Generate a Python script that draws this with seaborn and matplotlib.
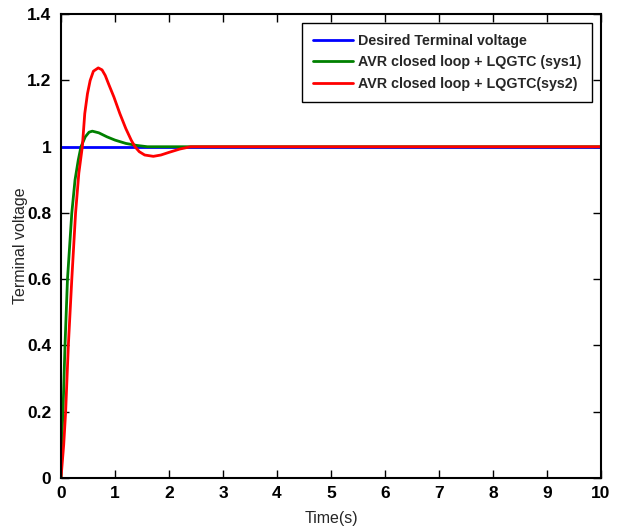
import numpy as np
import seaborn as sns
import matplotlib.pyplot as plt

# -----------------------------
# Data
# -----------------------------
t_ref = [0, 10]
v_ref = [1.0, 1.0]

t_sys1 = [0, 0.01, 0.037, 0.074, 0.12, 0.2, 0.26, 0.32, 0.37, 0.45, 0.52,
          0.58, 0.7, 0.85, 1.0, 1.2, 1.4, 1.6, 2.0, 10]
v_sys1 = [0, 0.1, 0.2, 0.4, 0.6, 0.8, 0.9, 0.96, 1.0, 1.03, 1.044,
          1.047, 1.042, 1.03, 1.02, 1.01, 1.004, 1.0, 1.0, 1.0]

t_sys2 = [0, 0.05, 0.086, 0.136, 0.2, 0.27, 0.33, 0.395, 0.44, 0.49, 0.54,
          0.6, 0.69, 0.76, 0.82, 0.88, 0.98, 1.09, 1.2, 1.3, 1.37, 1.45,
          1.55, 1.71, 1.85, 2.0, 2.2, 2.4, 10]
v_sys2 = [0, 0.1, 0.2, 0.4, 0.6, 0.8, 0.92, 1.0, 1.1, 1.16, 1.2,
          1.228, 1.238, 1.232, 1.215, 1.19, 1.15, 1.1, 1.055, 1.02, 1.0, 0.985,
          0.975, 0.971, 0.975, 0.983, 0.993, 1.0, 1.0]

labels = ["Desired Terminal voltage",
          "AVR closed loop + LQGTC (sys1)",
          "AVR closed loop + LQGTC(sys2)"]

# -----------------------------
# Plot
# -----------------------------
sns.set_style("white")
plt.rcParams['font.family'] = ['Liberation Sans', 'DejaVu Sans']

fig = plt.figure(figsize=(6.18, 5.27), dpi=100)
ax = fig.add_axes([0.0987, 0.093, 0.8738, 0.88])

sns.lineplot(x=t_ref, y=v_ref, color='#0000ff', linewidth=2, label=labels[0], ax=ax)
sns.lineplot(x=t_sys1, y=v_sys1, color='#008000', linewidth=2, label=labels[1], ax=ax)
sns.lineplot(x=t_sys2, y=v_sys2, color='#ff0000', linewidth=2, label=labels[2], ax=ax)

ax.set_xlim(0, 10)
ax.set_ylim(0, 1.4)
ax.set_xticks(np.arange(0, 11, 1))
ax.set_yticks([0, 0.2, 0.4, 0.6, 0.8, 1, 1.2, 1.4])
ax.set_yticklabels(['0', '0.2', '0.4', '0.6', '0.8', '1', '1.2', '1.4'])

for s in ax.spines.values():
    s.set_color('black')
    s.set_linewidth(1.5)

ax.tick_params(direction='in', length=6, width=1, top=True, right=True,
               bottom=True, left=True, labelsize=12.5, colors='black')
ax.tick_params(axis='y', pad=7)
ax.tick_params(axis='x', pad=6)
for lab in ax.get_xticklabels() + ax.get_yticklabels():
    lab.set_fontweight('bold')

ax.set_xlabel('Time(s)', fontsize=11.5, labelpad=7)
ax.set_ylabel('Terminal voltage', fontsize=11.5)
ax.yaxis.set_label_coords(-0.062, 0.5)

leg = ax.legend(loc='upper right', frameon=True, fancybox=False,
                edgecolor='black', handlelength=2.8, borderaxespad=0.6,
                borderpad=0.75, handletextpad=0.4, labelspacing=0.55,
                prop={'weight': 'bold', 'size': 10.3})
leg.get_frame().set_linewidth(1.0)
leg.get_frame().set_alpha(1)

plt.savefig('out.png', dpi=100)
plt.close()
